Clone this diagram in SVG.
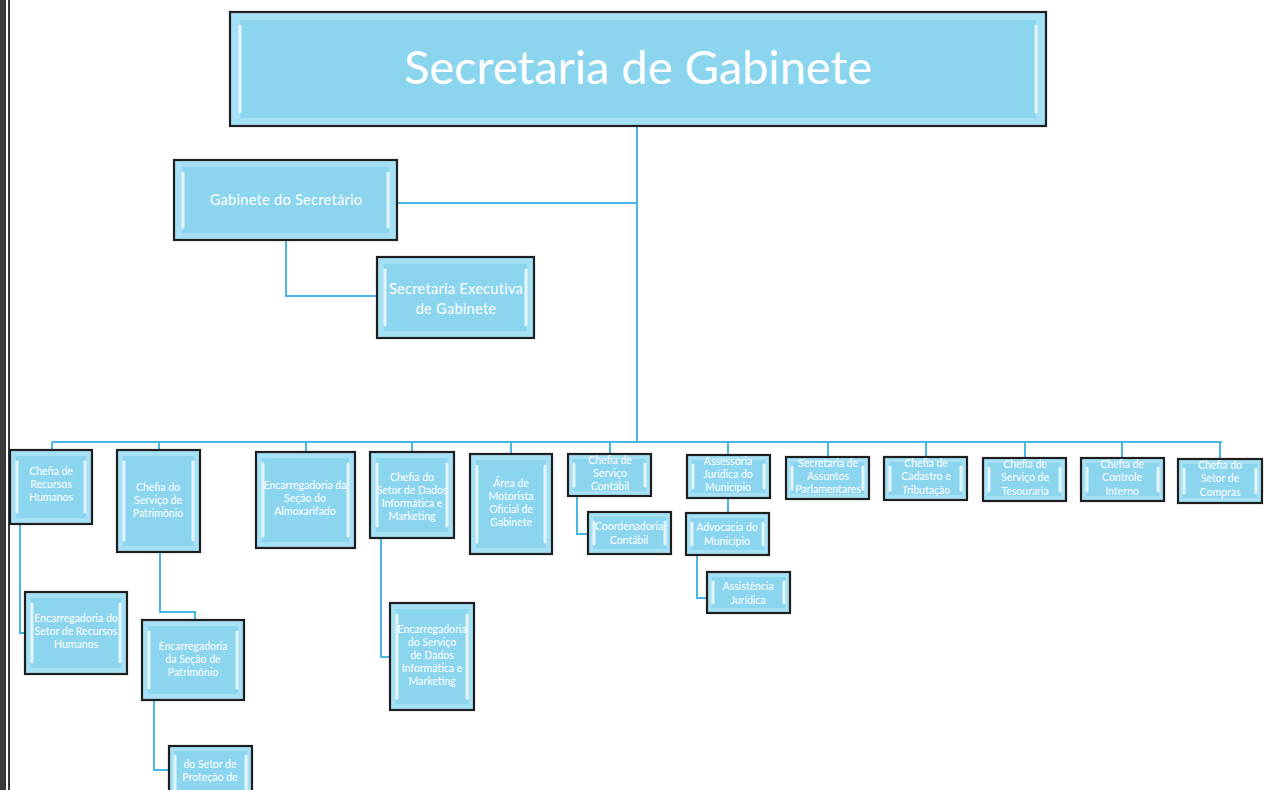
<svg xmlns="http://www.w3.org/2000/svg" width="1266" height="790" viewBox="0 0 1266 790">
<style>
.bx{fill:#a6e0f4;stroke:#1e1e1e;stroke-width:2.2}
.in{fill:#8bd5ef}
.hl{stroke:#ffffff;stroke-opacity:.75;stroke-width:3;stroke-linecap:round}
.c{fill:none;stroke:#49b6e6;stroke-width:2}
.t{font-family:Lato,"Open Sans",sans-serif;fill:#ffffff;text-anchor:middle;font-size:10.5px}
</style>
<rect width="1266" height="790" fill="#ffffff"/>
<g id="binder">
<rect x="0" y="0" width="6" height="790" fill="#3a3a3a"/>
<line x1="9" y1="0" x2="9" y2="790" stroke="#3a3a3a" stroke-width="2"/>
</g>
<g id="connectors">
<path class="c" d="M637 126V442"/>
<path class="c" d="M397 203H637"/>
<path class="c" d="M286 240V296H377"/>
<path class="c" d="M52 442H1222"/>
<path class="c" d="M52 442V450M159 442V450M306 442V452M412 442V452M511 442V454M610 442V454M728 442V455M828 442V457M926 442V457M1025 442V458M1122 442V458M1220 442V459"/>
<path class="c" d="M20 524V633H25"/>
<path class="c" d="M160 552V612H195V620"/>
<path class="c" d="M154 700V770H169"/>
<path class="c" d="M381 538V657H390"/>
<path class="c" d="M577 496V534H588"/>
<path class="c" d="M728 498V513"/>
<path class="c" d="M697 555V598H707"/>
</g>
<g id="top">
<rect class="bx" x="230" y="12" width="816" height="114"/>
<rect class="in" x="240" y="20" width="796" height="98"/>
<line class="hl" x1="240" y1="26" x2="240" y2="112"/><line class="hl" x1="1036" y1="26" x2="1036" y2="112"/>
<text class="t" x="638" y="84" style="font-size:47px">Secretaria de Gabinete</text>
</g>
<g id="gabinete">
<rect class="bx" x="174" y="160" width="223" height="80"/>
<rect class="in" x="182" y="167" width="207" height="66"/>
<line class="hl" x1="183" y1="173" x2="183" y2="227"/><line class="hl" x1="388" y1="173" x2="388" y2="227"/>
<text class="t" x="286" y="205" style="font-size:14.5px;letter-spacing:.3px">Gabinete do Secretário</text>
</g>
<g id="executiva">
<rect class="bx" x="377" y="257" width="157" height="81"/>
<rect class="in" x="384" y="264" width="143" height="67"/>
<line class="hl" x1="385" y1="270" x2="385" y2="325"/><line class="hl" x1="526" y1="270" x2="526" y2="325"/>
<text class="t" x="456" y="294" style="font-size:14.5px;letter-spacing:.3px">Secretaria Executiva</text>
<text class="t" x="456" y="314" style="font-size:14.5px;letter-spacing:.3px">de Gabinete</text>
</g>
<g id="n1">
<rect class="bx" x="10" y="450" width="82" height="74"/><rect class="in" x="16" y="456" width="70" height="62"/>
<line class="hl" x1="17" y1="462" x2="17" y2="512"/><line class="hl" x1="85" y1="462" x2="85" y2="512"/>
<text class="t" x="51" y="475">Chefia de</text><text class="t" x="51" y="488">Recursos</text><text class="t" x="51" y="501">Humanos</text>
</g>
<g id="n2">
<rect class="bx" x="117" y="450" width="83" height="102"/><rect class="in" x="123" y="456" width="71" height="90"/>
<line class="hl" x1="124" y1="462" x2="124" y2="540"/><line class="hl" x1="193" y1="462" x2="193" y2="540"/>
<text class="t" x="158" y="491">Chefia do</text><text class="t" x="158" y="504">Serviço de</text><text class="t" x="158" y="517">Patrimônio</text>
</g>
<g id="n3">
<rect class="bx" x="256" y="452" width="99" height="96"/><rect class="in" x="262" y="458" width="87" height="84"/>
<line class="hl" x1="263" y1="464" x2="263" y2="536"/><line class="hl" x1="348" y1="464" x2="348" y2="536"/>
<text class="t" x="305" y="489">Encarregadoria da</text><text class="t" x="305" y="502">Seção do</text><text class="t" x="305" y="515">Almoxarifado</text>
</g>
<g id="n4">
<rect class="bx" x="370" y="452" width="84" height="86"/><rect class="in" x="376" y="458" width="72" height="74"/>
<line class="hl" x1="377" y1="464" x2="377" y2="526"/><line class="hl" x1="447" y1="464" x2="447" y2="526"/>
<text class="t" x="412" y="481">Chefia do</text><text class="t" x="412" y="494">Setor de Dados</text><text class="t" x="412" y="507">Informática e</text><text class="t" x="412" y="520">Marketing</text>
</g>
<g id="n5">
<rect class="bx" x="470" y="454" width="82" height="100"/><rect class="in" x="476" y="460" width="70" height="88"/>
<line class="hl" x1="477" y1="466" x2="477" y2="542"/><line class="hl" x1="545" y1="466" x2="545" y2="542"/>
<text class="t" x="511" y="487">Área de</text><text class="t" x="511" y="500">Motorista</text><text class="t" x="511" y="513">Oficial de</text><text class="t" x="511" y="526">Gabinete</text>
</g>
<g id="n6">
<rect class="bx" x="568" y="454" width="83" height="42"/><rect class="in" x="573" y="459" width="73" height="32"/>
<line class="hl" x1="574" y1="464" x2="574" y2="486"/><line class="hl" x1="645" y1="464" x2="645" y2="486"/>
<text class="t" x="610" y="464">Chefia de</text><text class="t" x="610" y="477">Serviço</text><text class="t" x="610" y="490">Contábil</text>
</g>
<g id="n7">
<rect class="bx" x="687" y="455" width="83" height="43"/><rect class="in" x="692" y="460" width="73" height="33"/>
<line class="hl" x1="693" y1="465" x2="693" y2="488"/><line class="hl" x1="764" y1="465" x2="764" y2="488"/>
<text class="t" x="728" y="465">Assessoria</text><text class="t" x="728" y="478">Jurídica do</text><text class="t" x="728" y="491">Município</text>
</g>
<g id="n8">
<rect class="bx" x="786" y="457" width="83" height="42"/><rect class="in" x="791" y="462" width="73" height="32"/>
<line class="hl" x1="792" y1="467" x2="792" y2="489"/><line class="hl" x1="863" y1="467" x2="863" y2="489"/>
<text class="t" x="828" y="467">Secretaria de</text><text class="t" x="828" y="480">Assuntos</text><text class="t" x="828" y="493">Parlamentares</text>
</g>
<g id="n9">
<rect class="bx" x="884" y="457" width="83" height="43"/><rect class="in" x="889" y="462" width="73" height="33"/>
<line class="hl" x1="890" y1="467" x2="890" y2="490"/><line class="hl" x1="961" y1="467" x2="961" y2="490"/>
<text class="t" x="926" y="467">Chefia de</text><text class="t" x="926" y="480">Cadastro e</text><text class="t" x="926" y="494">Tributação</text>
</g>
<g id="n10">
<rect class="bx" x="983" y="458" width="83" height="43"/><rect class="in" x="988" y="463" width="73" height="33"/>
<line class="hl" x1="989" y1="468" x2="989" y2="491"/><line class="hl" x1="1060" y1="468" x2="1060" y2="491"/>
<text class="t" x="1025" y="468">Chefia de</text><text class="t" x="1025" y="481">Serviço de</text><text class="t" x="1025" y="495">Tesouraria</text>
</g>
<g id="n11">
<rect class="bx" x="1081" y="458" width="83" height="43"/><rect class="in" x="1086" y="463" width="73" height="33"/>
<line class="hl" x1="1087" y1="468" x2="1087" y2="491"/><line class="hl" x1="1158" y1="468" x2="1158" y2="491"/>
<text class="t" x="1122" y="468">Chefia de</text><text class="t" x="1122" y="481">Controle</text><text class="t" x="1122" y="495">Interno</text>
</g>
<g id="n12">
<rect class="bx" x="1178" y="459" width="84" height="44"/><rect class="in" x="1183" y="464" width="74" height="34"/>
<line class="hl" x1="1184" y1="469" x2="1184" y2="493"/><line class="hl" x1="1256" y1="469" x2="1256" y2="493"/>
<text class="t" x="1220" y="469">Chefia do</text><text class="t" x="1220" y="482">Setor de</text><text class="t" x="1220" y="496">Compras</text>
</g>
<g id="n13">
<rect class="bx" x="588" y="512" width="83" height="42"/><rect class="in" x="593" y="517" width="73" height="32"/>
<line class="hl" x1="594" y1="522" x2="594" y2="544"/><line class="hl" x1="665" y1="522" x2="665" y2="544"/>
<text class="t" x="629" y="530">Coordenadoria</text><text class="t" x="629" y="544">Contábil</text>
</g>
<g id="n14">
<rect class="bx" x="686" y="513" width="83" height="42"/><rect class="in" x="691" y="518" width="73" height="32"/>
<line class="hl" x1="692" y1="523" x2="692" y2="545"/><line class="hl" x1="763" y1="523" x2="763" y2="545"/>
<text class="t" x="727" y="531">Advocacia do</text><text class="t" x="727" y="545">Município</text>
</g>
<g id="n15">
<rect class="bx" x="707" y="572" width="83" height="41"/><rect class="in" x="712" y="577" width="73" height="31"/>
<line class="hl" x1="713" y1="582" x2="713" y2="603"/><line class="hl" x1="784" y1="582" x2="784" y2="603"/>
<text class="t" x="748" y="590">Assistência</text><text class="t" x="748" y="604">Jurídica</text>
</g>
<g id="n16">
<rect class="bx" x="25" y="592" width="102" height="82"/><rect class="in" x="31" y="598" width="90" height="70"/>
<line class="hl" x1="32" y1="604" x2="32" y2="662"/><line class="hl" x1="120" y1="604" x2="120" y2="662"/>
<text class="t" x="76" y="622">Encarregadoria do</text><text class="t" x="76" y="635">Setor de Recursos</text><text class="t" x="76" y="648">Humanos</text>
</g>
<g id="n17">
<rect class="bx" x="142" y="620" width="102" height="80"/><rect class="in" x="148" y="626" width="90" height="68"/>
<line class="hl" x1="149" y1="632" x2="149" y2="688"/><line class="hl" x1="237" y1="632" x2="237" y2="688"/>
<text class="t" x="193" y="650">Encarregadoria</text><text class="t" x="193" y="663">da Seção de</text><text class="t" x="193" y="676">Patrimônio</text>
</g>
<g id="n18">
<rect class="bx" x="390" y="603" width="84" height="107"/><rect class="in" x="396" y="609" width="72" height="95"/>
<line class="hl" x1="397" y1="615" x2="397" y2="698"/><line class="hl" x1="467" y1="615" x2="467" y2="698"/>
<text class="t" x="432" y="633">Encarregadoria</text><text class="t" x="432" y="646">do Serviço</text><text class="t" x="432" y="659">de Dados</text><text class="t" x="432" y="672">Informática e</text><text class="t" x="432" y="685">Marketing</text>
</g>
<g id="n19">
<rect class="bx" x="169" y="746" width="83" height="50"/><rect class="in" x="174" y="751" width="73" height="40"/>
<line class="hl" x1="175" y1="756" x2="175" y2="790"/><line class="hl" x1="246" y1="756" x2="246" y2="790"/>
<text class="t" x="210" y="768">do Setor de</text><text class="t" x="210" y="781">Proteção de</text>
</g>
</svg>
